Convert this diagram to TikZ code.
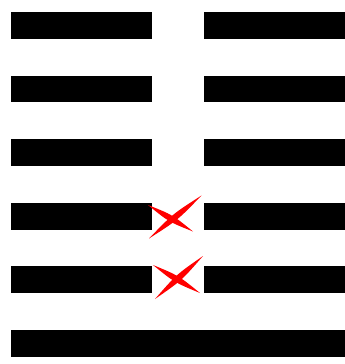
\documentclass[tikz,border=0pt]{standalone}
\usetikzlibrary{calc}

\tikzset{
  yaoline/.style={fill=black},
  mark stroke/.style={fill=red}
}
% one tapered brush stroke between two points
\newcommand{\brushstroke}[3]{%
  \fill[mark stroke] (#1) .. controls ($(#1)!0.5!(#2)!#3!90:(#2)$) .. (#2)
    .. controls ($(#1)!0.5!(#2)!#3!-90:(#2)$) .. (#1) -- cycle;}

\begin{document}
\begin{tikzpicture}[x=0.03cm, y=-0.03cm]
  \useasboundingbox (0,0) rectangle (345,364);
  % broken lines
  \foreach \i in {0,...,4}{
    \fill[yaoline] (11,{12+63.6*\i}) rectangle (152,{38.7+63.6*\i});
    \fill[yaoline] (204,{12+63.6*\i}) rectangle (345,{38.7+63.6*\i});
  }
  % solid line
  \fill[yaoline] (11,330) rectangle (345,356.7);
  % marks on the changing lines
  \brushstroke{148,205}{193,231.5}{3.4pt}
  \brushstroke{149,238.5}{201.5,195.5}{3.4pt}
  \brushstroke{153,265}{200,293}{3.4pt}
  \brushstroke{155,299}{203,256}{3.4pt}
\end{tikzpicture}
\end{document}
